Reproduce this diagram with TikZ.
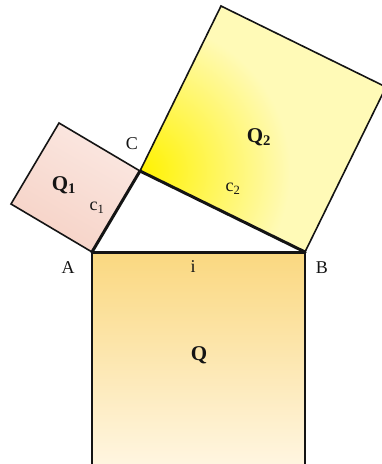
\documentclass[tikz,border=0pt]{standalone}
\usepackage{fontspec}
\setmainfont{Liberation Serif}
\definecolor{rose}{RGB}{246,210,198}
\definecolor{roselight}{RGB}{251,232,226}
\definecolor{lemon}{RGB}{255,242,0}
\definecolor{lemonpale}{RGB}{255,249,170}
\definecolor{sandtop}{RGB}{250,216,128}
\definecolor{sandbot}{RGB}{255,246,226}
\definecolor{ink}{RGB}{20,20,20}

\begin{document}
\begin{tikzpicture}[x=1pt,y=-1pt,text=ink,square/.style={draw=ink,line width=1.6pt,line join=miter},side/.style={draw=ink,line width=3pt,line cap=round},lbl/.style={font=\fontsize{18}{18}\selectfont},big/.style={font=\fontsize{21}{21}\selectfont\bfseries}]
 \useasboundingbox (0,0) rectangle (382,464);
 \clip (0,0) rectangle (382,464);
 % triangle and outer corners of the three squares
 \coordinate (A) at (92,252); \coordinate (B) at (305,252); \coordinate (C) at (140,171);
 \coordinate (A1) at (11,204); \coordinate (C1) at (59,123);
 \coordinate (C2) at (221,6); \coordinate (B2) at (386,87);
 \coordinate (A3) at (92,468); \coordinate (B3) at (305,468);
 % squares
 \shade[top color=sandtop,bottom color=sandbot] (A) rectangle (B3);
 \draw[square,line width=1.3pt] (A)--(A3) (B)--(B3);
 \shade[top color=roselight,bottom color=rose,shading angle=-30] (A)--(A1)--(C1)--(C)--cycle;
 \draw[square] (A)--(A1)--(C1)--(C);
 \begin{scope}
  \clip (C)--(C2)--(B2)--(B)--cycle;
  \fill[lemonpale!85!white] (C)--(C2)--(B2)--(B)--cycle;
  \shade[inner color=lemon,outer color=lemonpale!85!white] (C) circle (150);
 \end{scope}
 \draw[square] (C)--(C2)--(B2)--(B);
 % triangle
 \draw[side] (A)--(B); \draw[side] (B)--(C); \draw[side] (C)--(A);
 % labels
 \node[lbl] (lA) at (68,268) {A}; \node[lbl] (lB) at (322,268) {B}; \node[lbl] (lC) at (132,144) {C};
 \node[lbl] (li) at (193,267) {i};
 \node[lbl] (lc1) at (97,208) {c\textsubscript{1}}; \node[lbl] (lc2) at (233,189) {c\textsubscript{2}};
 \node[big] (lQ) at (199,355) {Q};
 \node[big] (lQ1) at (64,185) {Q\textsubscript{1}}; \node[big] (lQ2) at (259,137) {Q\textsubscript{2}};
\end{tikzpicture}
\end{document}
